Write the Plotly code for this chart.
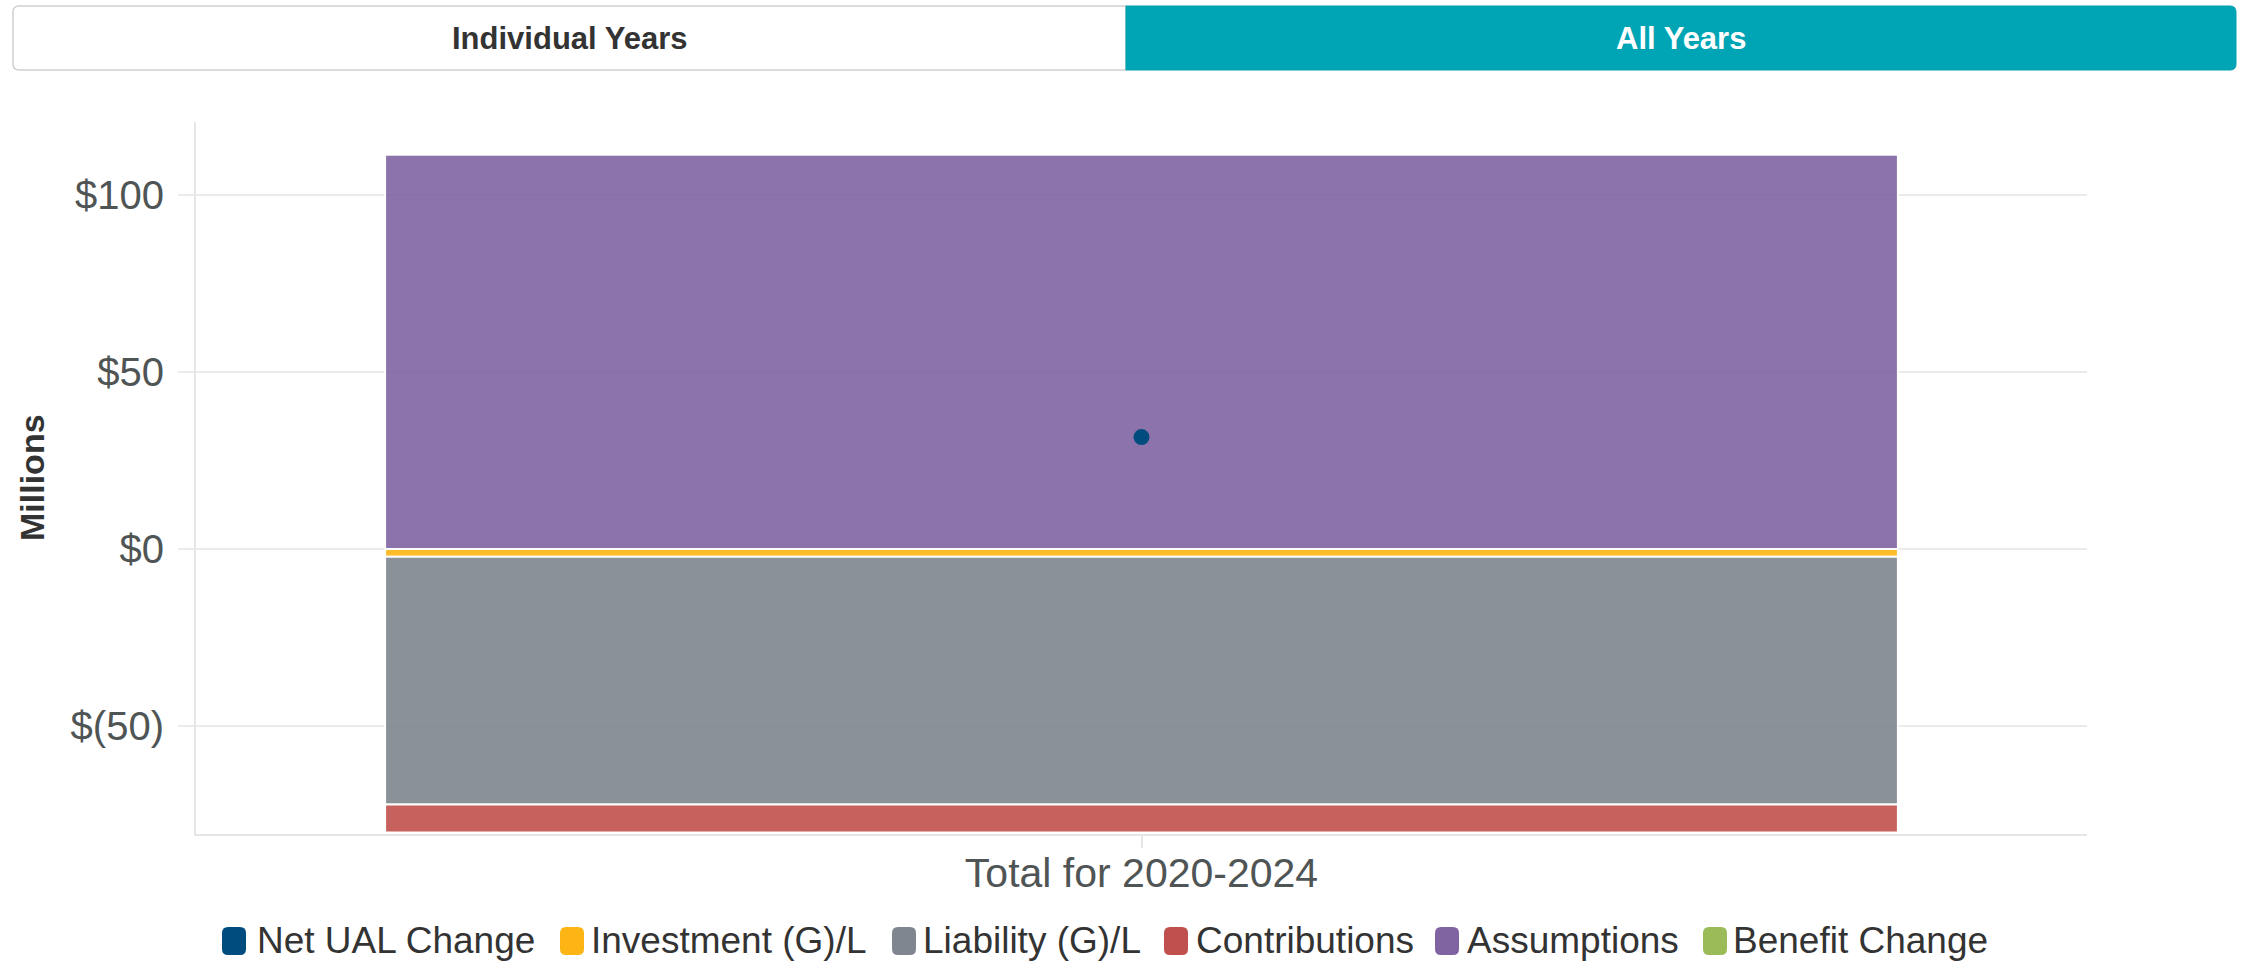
import plotly.graph_objects as go

# ---------------- data ----------------
category = ["Total for 2020-2024"]
series_names = ["Investment (G)/L", "Liability (G)/L", "Contributions", "Assumptions", "Benefit Change"]
investment = [-2.2]
liability = [-69.9]
contributions = [-7.9]
assumptions = [111.3]
benefit_change = [0.0]
net_ual_change = [31.6]
series_values = [investment, liability, contributions, assumptions, benefit_change]
series_colors = ["#FDB515", "#7F868F", "#C0504D", "#8064A2", "#9BBB59"]
net_name = "Net UAL Change"
net_color = "#004C7F"
tick_vals = [-50, 0, 50, 100]
tick_text = ["$(50)", "$0", "$50", "$100"]
button_labels = ["Individual Years", "All Years"]

# ---------------- layout geometry ----------------
W, H = 2244, 962
L, R, T, B = 196, 157, 122, 128
PW, PH = W - L - R, H - T - B
FONT = "Liberation Sans, Arial, sans-serif"


def px2x(px):
    return (px - L) / PW


def px2y(py):
    return (H - B - py) / PH


def rrect(x0, y0, x1, y1, r, left=True, right=True):
    # pixel coords (y downwards) -> rounded rect path in paper coords
    X0, X1 = px2x(x0), px2x(x1)
    Y0, Y1 = px2y(y1), px2y(y0)  # Y0 bottom, Y1 top
    rx, ry = r / PW, r / PH
    rl = (rx, ry) if left else (0, 0)
    rr = (rx, ry) if right else (0, 0)
    p = f"M {X0 + rl[0]},{Y0} L {X1 - rr[0]},{Y0} "
    p += f"Q {X1},{Y0} {X1},{Y0 + rr[1]} L {X1},{Y1 - rr[1]} Q {X1},{Y1} {X1 - rr[0]},{Y1} "
    p += f"L {X0 + rl[0]},{Y1} Q {X0},{Y1} {X0},{Y1 - rl[1]} L {X0},{Y0 + rl[1]} Q {X0},{Y0} {X0 + rl[0]},{Y0} Z"
    return p


fig = go.Figure()

for name, vals, col in zip(series_names, series_values, series_colors):
    fig.add_trace(go.Bar(
        x=category, y=vals, name=name,
        marker=dict(color=col, opacity=0.9, line=dict(color="white", width=2)),
        showlegend=False,
    ))

fig.add_trace(go.Scatter(
    x=category, y=net_ual_change, name=net_name, mode="markers",
    marker=dict(color=net_color, size=16),
    showlegend=False,
))

shapes = []
annotations = []

# toggle buttons (drawn)
shapes.append(dict(type="path", xref="paper", yref="paper",
                   path=rrect(13, 6, 1126, 70, 6, right=False),
                   fillcolor="white", line=dict(color="#D0D0D0", width=1.5), layer="above"))
shapes.append(dict(type="path", xref="paper", yref="paper",
                   path=rrect(1126, 6, 2236, 70, 6, left=False),
                   fillcolor="#00A5B5", line=dict(color="#00A0B0", width=1), layer="above"))
annotations.append(dict(x=px2x(569.5), y=px2y(38), xref="paper", yref="paper",
                        text="<b>%s</b>" % button_labels[0], showarrow=False,
                        font=dict(family=FONT, size=31, color="#333333"),
                        xanchor="center", yanchor="middle"))
annotations.append(dict(x=px2x(1681), y=px2y(38), xref="paper", yref="paper",
                        text="<b>%s</b>" % button_labels[1], showarrow=False,
                        font=dict(family=FONT, size=31, color="white"),
                        xanchor="center", yanchor="middle"))

# y axis title
annotations.append(dict(x=px2x(32), y=px2y(478), xref="paper", yref="paper",
                        text="<b>Millions</b>", showarrow=False, textangle=-90,
                        font=dict(family=FONT, size=34, color="#333333"),
                        xanchor="center", yanchor="middle"))

# custom legend
legend_names = [net_name] + series_names
legend_colors = [net_color] + series_colors
sym_x = [222, 560, 892, 1164, 1435, 1703]
txt_x = [255, 589, 921, 1194, 1465, 1731]
for nm, col, sx, tx in zip(legend_names, legend_colors, sym_x, txt_x):
    shapes.append(dict(type="path", xref="paper", yref="paper",
                       path=rrect(sx, 927, sx + 24, 955, 6),
                       fillcolor=col, line=dict(width=0), layer="above"))
    annotations.append(dict(x=px2x(tx), y=px2y(941), xref="paper", yref="paper",
                            text=nm, showarrow=False,
                            font=dict(family=FONT, size=37, color="#333333"),
                            xanchor="left", yanchor="middle"))

fig.update_layout(
    width=W, height=H,
    margin=dict(l=L, r=R, t=T, b=B, autoexpand=False),
    paper_bgcolor="white", plot_bgcolor="white",
    barmode="relative", bargap=0.2,
    showlegend=False,
    font=dict(family=FONT, color="#555555"),
    shapes=shapes, annotations=annotations,
    xaxis=dict(
        showgrid=False, showline=True, linecolor="#E6E6E6", linewidth=2,
        ticks="outside", ticklen=12, tickcolor="#E6E6E6", tickwidth=2,
        tickfont=dict(family=FONT, size=41, color="#4F5455"),
        ticklabelstandoff=-10,
    ),
    yaxis=dict(
        range=[-80.4, 120.5],
        tickvals=tick_vals, ticktext=tick_text,
        showgrid=True, gridcolor="#EBEBEB", gridwidth=2,
        zeroline=False,
        showline=True, linecolor="#E6E6E6", linewidth=2,
        ticks="outside", ticklen=16, tickcolor="#EBEBEB", tickwidth=2,
        tickfont=dict(family=FONT, size=40, color="#4F5455"),
        ticklabelstandoff=6,
    ),
)

fig.write_html("out.html")
